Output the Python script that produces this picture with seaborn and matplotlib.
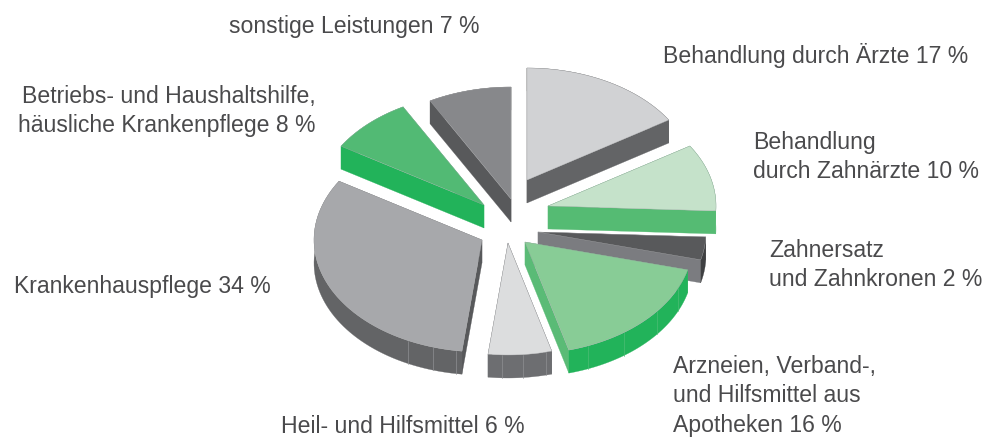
import numpy as np
import pandas as pd
import matplotlib
matplotlib.use("Agg")
import matplotlib.pyplot as plt
import seaborn as sns

# Beschriftung und Prozentwerte
names = ["Behandlung durch Ärzte", "Behandlung\ndurch Zahnärzte", "Zahnersatz\nund Zahnkronen",
         "Arzneien, Verband-,\nund Hilfsmittel aus\nApotheken", "Heil- und Hilfsmittel",
         "Krankenhauspflege", "Betriebs- und Haushaltshilfe,\nhäusliche Krankenpflege",
         "sonstige Leistungen"]
printed_pct = [17, 10, 2, 16, 6, 34, 8, 7]
# gezeichnete Segmentgrößen (weichen leicht von den Angaben ab)
drawn_share = [16.0, 9.7, 3.3, 16.8, 6.1, 31.9, 8.2, 8.0]

# Explosion der Segmente und Farben
explode_x = [17, 38, 28, 15, -2, -28, -26, 1]
explode_y = [-45, -19, 7, 17, 18, 15, -20, -26]
top_col = ["#d1d2d4", "#c5e2ca", "#58595b", "#88cc96", "#dcddde", "#a7a8ab", "#52ba74", "#87888b"]
wall_col = ["#636466", "#55bb73", "#7b7c80", "#5abb76", "#6d6e71", "#58595b", "#22b35a", "#58595b"]
rim_col = ["#636466", "#55bb73", "#3f4042", "#22b35a", "#6d6e71", "#636466", "#22b35a", "#58595b"]
seams = [[], [], [], [114, 128, 144, 158], [167, 175, 182], [189, 197, 206], [], []]

label_x = [663, 753, 769, 673, 281, 14, 316, 229]
label_y = [55, 157, 265, 396, 426.5, 287, 111, 27]
label_ha = ["left", "left", "left", "left", "left", "left", "right", "left"]

CX, CY = 510, 225
RX, RY = 168, 112
DEPTH = 23

sns.set_theme(style="white")
plt.rcParams["font.family"] = ["Liberation Sans", "DejaVu Sans"]

df = pd.DataFrame({"share": drawn_share, "dx": explode_x, "dy": explode_y,
                   "top": top_col, "wall": wall_col, "rim": rim_col})
df["end"] = df["share"].cumsum() / df["share"].sum() * 360
df["start"] = df["end"].shift(1).fillna(0)
df["seams"] = seams


def edge(ax0, ay0, t):
    t = np.radians(t)
    return ax0 + RX * np.sin(t), ay0 - RY * np.cos(t)


fig, ax = plt.subplots(figsize=(9.91, 4.37), dpi=100)
ax.set_position([0, 0, 1, 1])
ax.set_xlim(0, 991)
ax.set_ylim(437, 0)
ax.axis("off")

# von hinten nach vorne zeichnen
for i in [7, 6, 0, 1, 2, 5, 4, 3]:
    s = df.iloc[i]
    x0, y0 = CX + s["dx"], CY + s["dy"]
    t = np.linspace(s["start"], s["end"], 60)
    ax_x, ax_y = edge(x0, y0, t)

    # Schnittflächen
    for a in (s["start"], s["end"]):
        ex, ey = edge(x0, y0, a)
        ax.fill([x0, ex, ex, x0], [y0, ey, ey + DEPTH, y0 + DEPTH], color=s["wall"], lw=0.2)

    # Mantel, nur vorne sichtbar
    ax.fill(np.r_[ax_x, ax_x[::-1]], np.r_[ax_y, ax_y[::-1] + DEPTH], color=s["rim"], lw=0.2)
    for a in s["seams"]:
        ex, ey = edge(x0, y0, a)
        ax.plot([ex, ex], [ey, ey + DEPTH], color="#8f9093" if i != 3 else "#4cbd74", lw=0.5)

    # Deckfläche
    ax.fill(np.r_[x0, ax_x], np.r_[y0, ax_y], facecolor=s["top"], edgecolor="#a8a9ab", lw=0.25)

for name, pct, x, y, ha in zip(names, printed_pct, label_x, label_y, label_ha):
    ax.text(x, y, f"{name} {pct} %", ha=ha, va="center", fontsize=16.55,
            color="#4a4a4c", linespacing=1.37)

fig.savefig("out.png", dpi=100, facecolor="white")
